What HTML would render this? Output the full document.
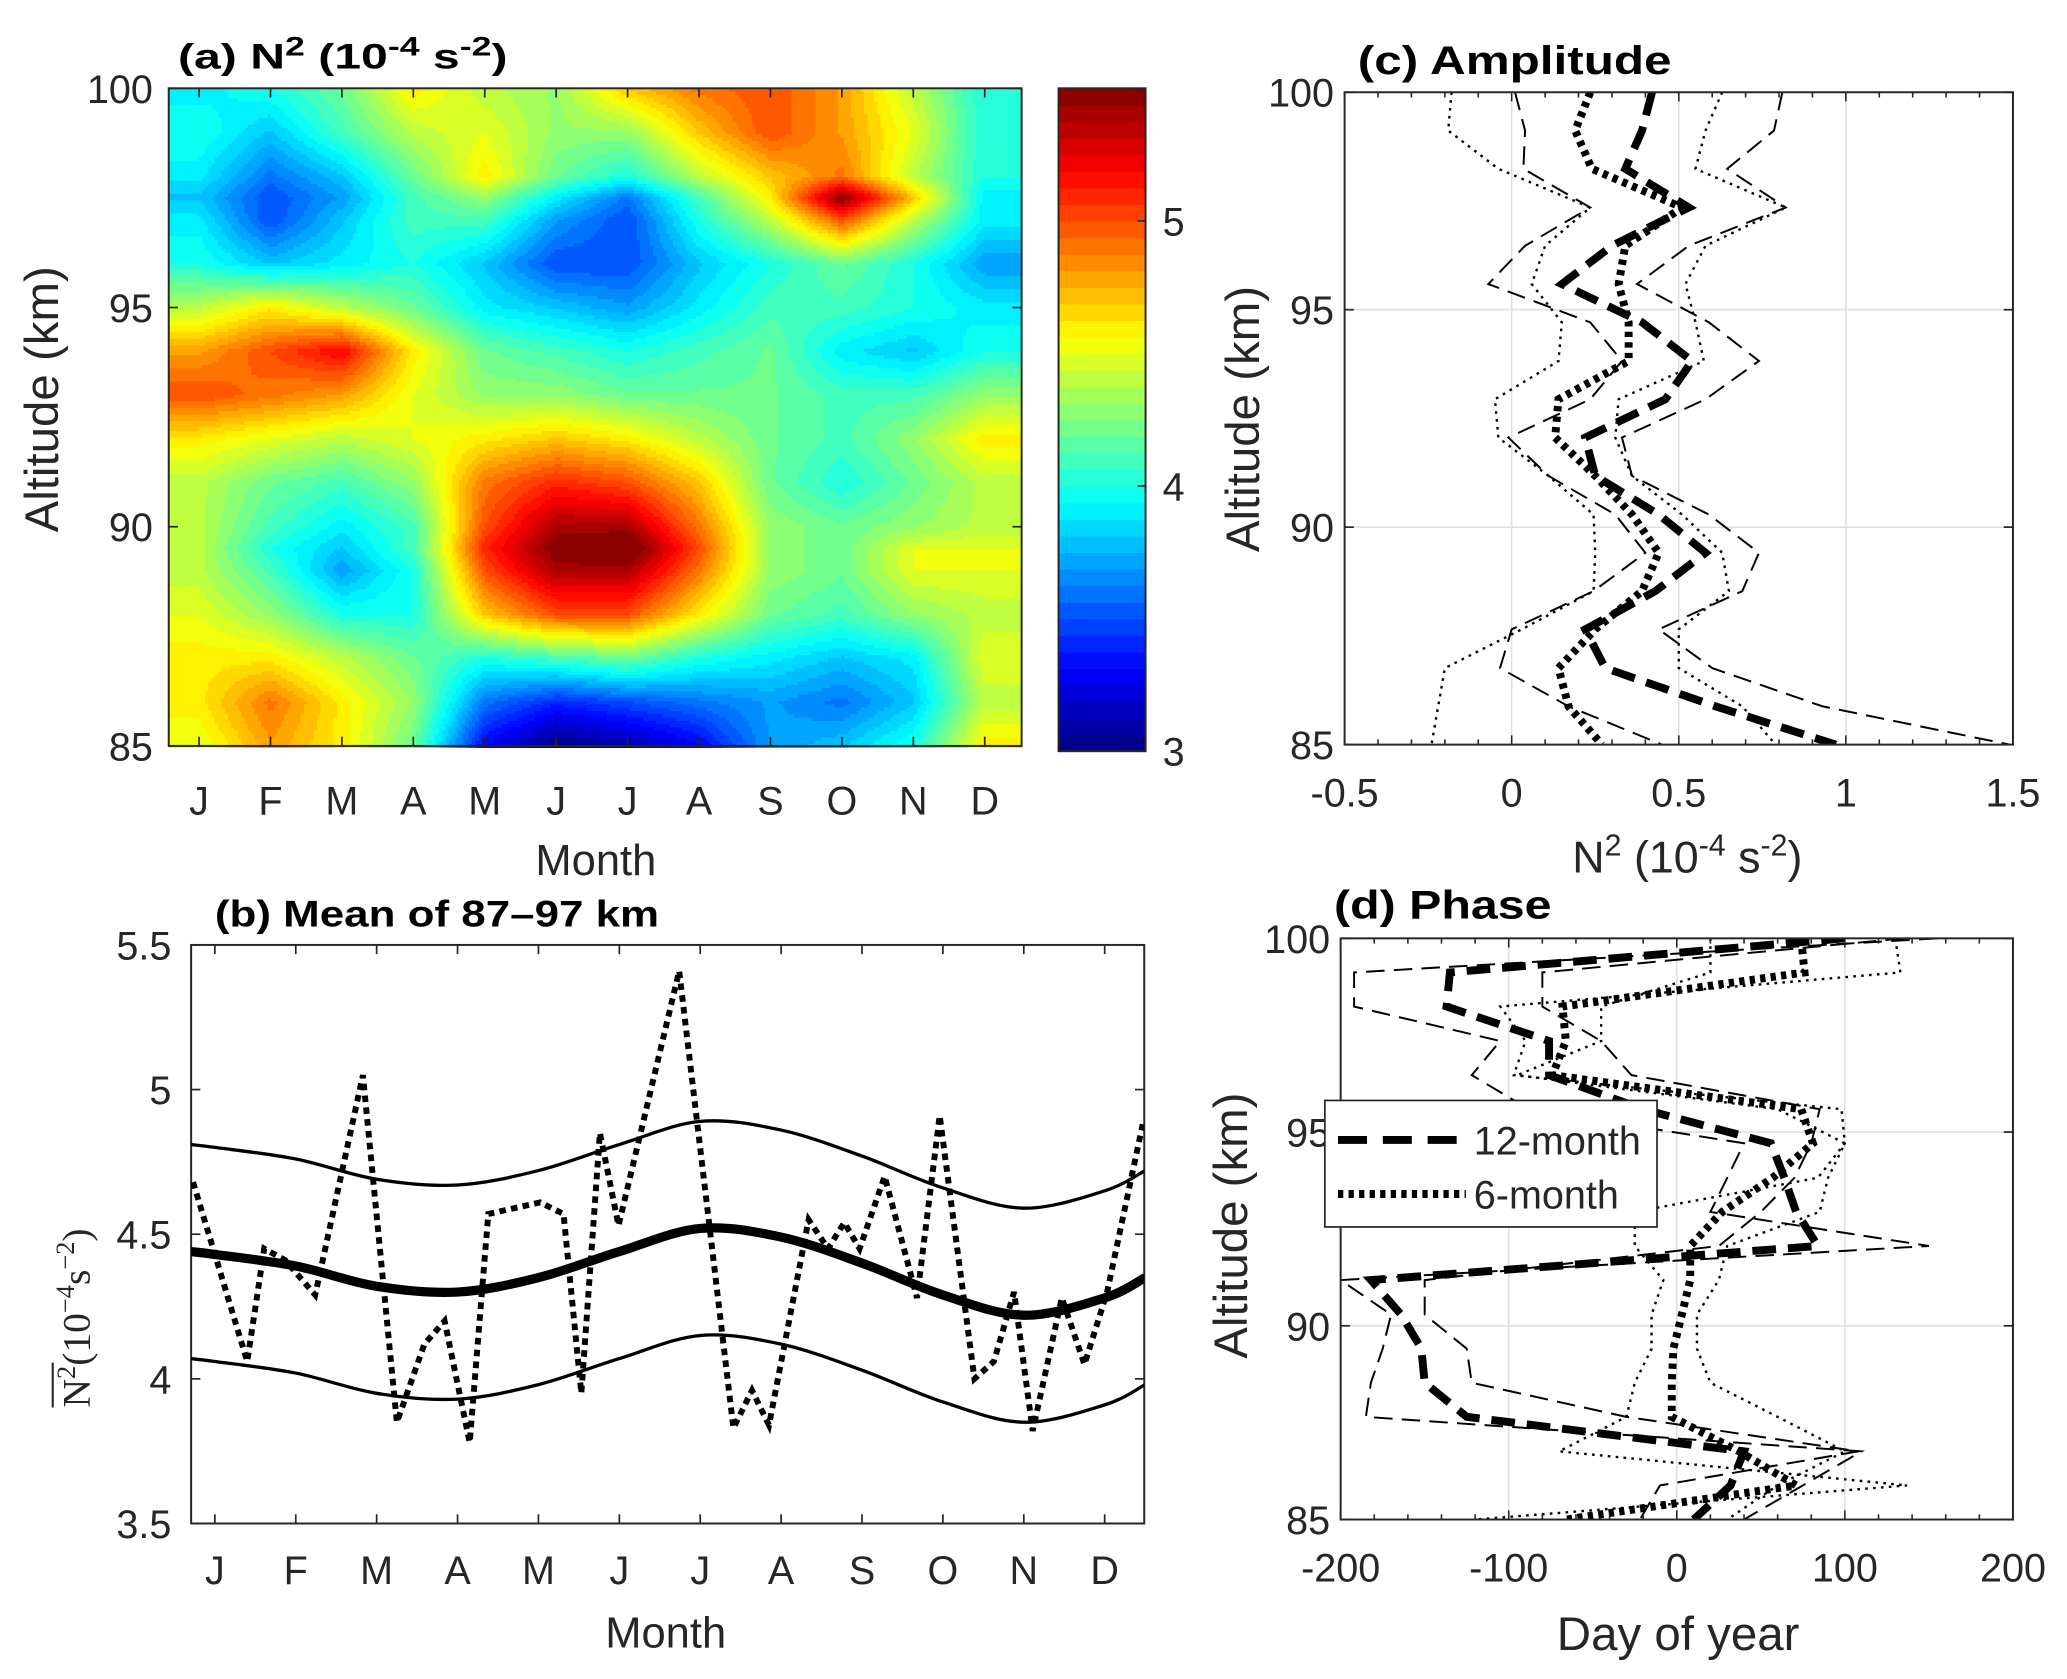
<!DOCTYPE html>
<html><head><meta charset="utf-8"><style>
html,body{margin:0;padding:0;background:#fff;}
svg{display:block;}
text{font-family:"Liberation Sans",Arial,sans-serif;fill:#262626;}
.b{font-weight:bold;fill:#000;}
</style></head><body>
<svg id="fig" width="2067" height="1679" viewBox="0 0 1568 1274" preserveAspectRatio="none" xmlns="http://www.w3.org/2000/svg">
<g id="ga"></g>
<g id="gcb"></g>
<g id="gb"></g>
<g id="gc"></g>
<g id="gd"></g>
</svg>
<script>
// ---------- DATA ----------
const monthLabels = ["J","F","M","A","M","J","J","A","S","O","N","D"];
const heatAlts = [100,99,98,97.5,97,96,95,94,93,92,91,90,89.5,89,88,87,86,85];
const heatVals = [
[3.9,4.0,4.2,4.6,4.4,4.3,4.7,4.9,5.0,4.8,4.4,4.0],
[4.0,3.8,4.1,4.4,4.5,4.3,4.3,4.7,5.0,4.8,4.5,4.0],
[3.9,3.6,3.8,4.2,4.6,4.2,4.0,4.4,4.7,4.9,4.4,4.0],
[3.8,3.5,3.7,4.1,4.3,3.9,3.6,4.1,4.6,5.5,4.7,3.9],
[3.9,3.5,3.8,4.1,4.1,3.7,3.5,4.0,4.4,5.0,4.4,3.9],
[4.0,3.8,3.9,4.0,3.8,3.5,3.5,3.8,4.0,4.2,4.0,3.7],
[4.4,4.6,4.4,4.2,3.9,3.8,3.7,3.9,4.1,4.1,4.0,3.9],
[4.8,5.0,5.2,4.6,4.2,4.1,4.0,4.1,4.2,3.9,3.8,4.0],
[5.0,4.9,4.8,4.5,4.3,4.3,4.2,4.2,4.2,4.1,4.1,4.3],
[4.6,4.5,4.4,4.5,4.6,4.7,4.6,4.4,4.2,4.1,4.3,4.6],
[4.4,4.2,4.1,4.3,4.9,5.1,5.0,4.7,4.2,4.0,4.2,4.4],
[4.4,4.1,3.9,4.1,5.0,5.4,5.4,4.9,4.3,4.2,4.3,4.4],
[4.4,4.0,3.8,4.1,5.1,5.5,5.6,5.0,4.3,4.2,4.5,4.5],
[4.4,4.1,3.7,4.0,5.0,5.4,5.4,4.9,4.3,4.2,4.5,4.5],
[4.5,4.3,4.0,4.0,4.7,5.0,5.0,4.6,4.2,4.1,4.3,4.4],
[4.6,4.6,4.4,4.2,4.0,4.1,4.2,4.0,3.9,3.8,3.9,4.5],
[4.6,4.9,4.6,4.3,3.6,3.4,3.5,3.6,3.7,3.6,3.8,4.4],
[4.5,4.8,4.6,4.2,3.3,3.0,3.1,3.3,3.7,3.8,4.0,4.6]];
const cbTicks = [3,4,5];

const fitT = [-0.3,0,1,2,3,4,5,6,7,8,9,10,11,11.5];
const fitMean = [4.44,4.43,4.39,4.32,4.30,4.35,4.44,4.52,4.49,4.40,4.29,4.22,4.28,4.35];
const fitUpper = [4.81,4.80,4.76,4.69,4.67,4.72,4.81,4.89,4.86,4.77,4.66,4.59,4.65,4.72];
const fitLower = [4.07,4.06,4.02,3.95,3.93,3.98,4.07,4.15,4.12,4.03,3.92,3.85,3.91,3.98];
const rawT = [-0.27,0.40,0.61,0.87,1.24,1.83,2.25,2.59,2.84,3.15,3.38,4.02,4.31,4.53,4.76,4.99,5.74,6.41,6.64,6.85,7.34,7.58,7.78,7.97,8.28,8.68,8.96,9.39,9.63,9.88,10.11,10.47,10.75,11.03,11.47];
const rawV = [4.68,4.06,4.45,4.41,4.29,5.05,3.85,4.12,4.20,3.78,4.57,4.61,4.57,3.95,4.85,4.53,5.41,3.83,3.96,3.84,4.55,4.45,4.54,4.45,4.70,4.28,4.91,4.00,4.06,4.30,3.82,4.28,4.05,4.30,4.88];
const bTicks = [3.5,4,4.5,5,5.5];

const profAlts = [100,99.12,98.24,97.35,96.47,95.59,94.71,93.82,92.94,92.06,91.18,90.29,89.41,88.53,87.65,86.76,85.88,85];
const amp12 = [0.42,0.39,0.34,0.53,0.30,0.15,0.39,0.54,0.46,0.22,0.25,0.44,0.58,0.43,0.22,0.28,0.61,0.97];
const amp6 = [0.235,0.19,0.24,0.51,0.34,0.32,0.35,0.35,0.14,0.13,0.25,0.36,0.44,0.39,0.25,0.14,0.17,0.27];
const amp12Lo = [0.01,0.04,0.035,0.235,0.04,-0.07,0.235,0.33,0.235,-0.01,0.11,0.31,0.40,0.245,0.0,-0.035,0.17,0.45];
const amp12Hi = [0.81,0.785,0.645,0.82,0.53,0.375,0.59,0.74,0.58,0.33,0.36,0.59,0.74,0.69,0.44,0.60,0.93,1.49];
const amp6Lo = [-0.18,-0.19,-0.04,0.235,0.10,0.06,0.15,0.14,-0.05,-0.04,0.11,0.245,0.25,0.245,0.03,-0.20,-0.22,-0.24];
const amp6Hi = [0.63,0.58,0.55,0.82,0.58,0.52,0.55,0.575,0.32,0.31,0.36,0.51,0.63,0.65,0.50,0.50,0.69,0.79];
const cTicks = [-0.5,0,0.5,1,1.5];

const ph12 = [100,-135,-137,-76,-76,-20,56,64,71,84,-182,-164,-152,-150,-125,40,32,10];
const ph6 = [74,76,-68,-66,-74,74,81,57,27,8,8,3,-2,-3,-3,37,71,-66];
const ph12A = [155,-192,-192,-105,-122,-88,40,30,20,150,-200,-170,-175,-182,-185,110,75,40];
const ph12B = [135,-80,-80,-45,-27,85,80,70,50,25,-150,-150,-125,-122,-30,108,-10,-22];
const ph6A = [130,133,-105,-90,-97,98,100,84,-25,-25,-8,-15,-15,-25,-30,-70,137,-120];
const ph6B = [20,20,-45,-45,-95,60,100,90,85,30,25,12,12,20,60,100,60,30];
const dTicks = [-200,-100,0,100,200];
const altTicks = [85,90,95,100];

// ---------- HELPERS ----------
const NS="http://www.w3.org/2000/svg";
function mk(parent,tag,attrs,txt){const e=document.createElementNS(NS,tag);for(const k in attrs)e.setAttribute(k,attrs[k]);if(txt!==undefined)e.textContent=txt;parent.appendChild(e);return e;}
function jet(v){
  const r=Math.max(0,Math.min(1,1.5-Math.abs(4*v-3)));
  const g=Math.max(0,Math.min(1,1.5-Math.abs(4*v-2)));
  const b=Math.max(0,Math.min(1,1.5-Math.abs(4*v-1)));
  return `rgb(${Math.round(r*255)},${Math.round(g*255)},${Math.round(b*255)})`;
}
const CMIN=3, CMAX=5.5, NLEV=40;
function lvColor(val){let q=Math.floor((val-CMIN)/(CMAX-CMIN)*NLEV);q=Math.max(0,Math.min(NLEV-1,q));return jet((q+0.5)/NLEV);}
function lin(d0,d1,r0,r1){return v=>r0+(v-d0)/(d1-d0)*(r1-r0);}
function catmull(pts){let d=`M${pts[0][0]},${pts[0][1]}`;for(let i=0;i<pts.length-1;i++){const p0=pts[Math.max(0,i-1)],p1=pts[i],p2=pts[i+1],p3=pts[Math.min(pts.length-1,i+2)];
 d+=` C${p1[0]+(p2[0]-p0[0])/6},${p1[1]+(p2[1]-p0[1])/6} ${p2[0]-(p3[0]-p1[0])/6},${p2[1]-(p3[1]-p1[1])/6} ${p2[0]},${p2[1]}`;}return d;}
function txt(g,x,y,s,size,anchor,extra){const a={x:x,y:y,'font-size':size,'text-anchor':anchor||'middle'};if(extra)for(const k in extra)a[k]=extra[k];return mk(g,'text',a,s);}
const TF=30; // tick font
const AF=36; // axis title font

// ---------- PANEL A ----------
(function(){
 const g=document.getElementById('ga');
 const X0=128,X1=775,Y0=67,Y1=566;
 const xm=lin(0,11,151,747), ya=lin(85,100,Y1,Y0);
 function val(m,a){
  m=Math.max(0,Math.min(11,m));
  let i=0;while(i<heatAlts.length-2&&a<heatAlts[i+1])i++;
  const a0=heatAlts[i],a1=heatAlts[i+1];let ta=(a0-a)/(a0-a1);ta=Math.max(0,Math.min(1,ta));
  const j=Math.min(10,Math.floor(m)),tm=m-j;
  const v0=heatVals[i][j]*(1-tm)+heatVals[i][j+1]*tm;
  const v1=heatVals[i+1][j]*(1-tm)+heatVals[i+1][j+1]*tm;
  return v0*(1-ta)+v1*ta;
 }
 const step=2.5;
 const hm=mk(g,'g',{});
 
 
 function flush(x0,x1,y,c){
  const r=mk(hm,'rect',{x:x0,y:y,width:x1-x0+0.6,height:step+0.6,fill:c});
  
  
 }
 for(let y=Y0;y<Y1;y+=step){
  const a=85+(Y1-(y+step/2))/(Y1-Y0)*15;
  let runStart=X0,runCol=null;
  for(let x=X0;x<X1;x+=step){
   const m=(x+step/2-151)/(747-151)*11;
   const c=lvColor(val(m,a));
   if(c!==runCol){
     if(runCol)flush(runStart,x,y,runCol);
     runStart=x;runCol=c;}
  }
  if(runCol)flush(runStart,X1,y,runCol);
 }
 mk(g,'rect',{x:X0,y:Y0,width:X1-X0,height:Y1-Y0,fill:'none',stroke:'#262626','stroke-width':1.5});
 monthLabels.forEach((s,i)=>{const x=xm(i);
  mk(g,'line',{x1:x,x2:x,y1:Y1,y2:Y1-7,stroke:'#262626','stroke-width':1.3});
  mk(g,'line',{x1:x,x2:x,y1:Y0,y2:Y0+7,stroke:'#262626','stroke-width':1.3});
  const t=txt(g,x,618,s,TF);});
 altTicks.forEach(a=>{const y=ya(a);
  mk(g,'line',{x1:X0,x2:X0+7,y1:y,y2:y,stroke:'#262626','stroke-width':1.3});
  mk(g,'line',{x1:X1,x2:X1-7,y1:y,y2:y,stroke:'#262626','stroke-width':1.3});
  txt(g,116,y+11,a,TF,'end');});
 const t=mk(g,'text',{x:135,y:52,'font-size':27,class:'b',textLength:250,lengthAdjust:'spacingAndGlyphs'});t.innerHTML='(a) N<tspan dy="-10" font-size="20">2</tspan><tspan dy="10"> (10</tspan><tspan dy="-10" font-size="20">-4</tspan><tspan dy="10"> s</tspan><tspan dy="-10" font-size="20">-2</tspan><tspan dy="10">)</tspan>';
 
 const yl=txt(g,0,0,'Altitude (km)',AF,'middle',{transform:'translate(44,303) rotate(-90)'});
 
 const xl=txt(g,452,664,'Month',33);
})();

// ---------- COLORBAR ----------
(function(){
 const g=document.getElementById('gcb');
 const X0=803,X1=869,Yb=570,Yt=67;
 const yv=lin(CMIN,CMAX,Yb,Yt);
 for(let q=0;q<NLEV;q++){
  const v0=CMIN+q*(CMAX-CMIN)/NLEV,v1=CMIN+(q+1)*(CMAX-CMIN)/NLEV;
  const r=mk(g,'rect',{x:X0,y:yv(v1),width:X1-X0,height:yv(v0)-yv(v1)+0.5,fill:jet((q+0.5)/NLEV)});
  
 }
 mk(g,'rect',{x:X0,y:Yt,width:X1-X0,height:Yb-Yt,fill:'none',stroke:'#262626','stroke-width':1.5});
 cbTicks.forEach(v=>{const y=yv(v);mk(g,'line',{x1:X1,x2:X1-6,y1:y,y2:y,stroke:'#262626','stroke-width':1.3});
  const t=txt(g,882,y+11,v,TF,'start');});
})();

// ---------- PANEL B ----------
(function(){
 const g=document.getElementById('gb');
 const X0=145,X1=868,Y0=717,Y1=1156;
 const xm=lin(0,11,163,838), yv=lin(3.5,5.5,Y1,Y0);
 mk(g,'rect',{x:X0,y:Y0,width:X1-X0,height:Y1-Y0,fill:'#fff',stroke:'#262626','stroke-width':1.5});
 monthLabels.forEach((s,i)=>{const x=xm(i);
  mk(g,'line',{x1:x,x2:x,y1:Y1,y2:Y1-7,stroke:'#262626','stroke-width':1.3});
  mk(g,'line',{x1:x,x2:x,y1:Y0,y2:Y0+7,stroke:'#262626','stroke-width':1.3});
  const t=txt(g,x,1202,s,TF);});
 bTicks.forEach(v=>{const y=yv(v);
  mk(g,'line',{x1:X0,x2:X0+7,y1:y,y2:y,stroke:'#262626','stroke-width':1.3});
  mk(g,'line',{x1:X1,x2:X1-7,y1:y,y2:y,stroke:'#262626','stroke-width':1.3});
  txt(g,130,y+11,v,TF,'end');});
 const cp=mk(g,'clipPath',{id:'clipb'});mk(cp,'rect',{x:X0,y:Y0,width:X1-X0,height:Y1-Y0});
 const pg=mk(g,'g',{'clip-path':'url(#clipb)'});
 const raw=mk(pg,'path',{d:rawT.map((t,i)=>(i?'L':'M')+xm(t)+','+yv(rawV[i])).join(' '),fill:'none',stroke:'#000','stroke-width':4.5,'stroke-dasharray':'5 4'});
 
 const up=mk(pg,'path',{d:catmull(fitT.map((t,i)=>[xm(t),yv(fitUpper[i])])),fill:'none',stroke:'#000','stroke-width':2.5});
 
 const lo=mk(pg,'path',{d:catmull(fitT.map((t,i)=>[xm(t),yv(fitLower[i])])),fill:'none',stroke:'#000','stroke-width':2.5});
 
 const mn=mk(pg,'path',{d:catmull(fitT.map((t,i)=>[xm(t),yv(fitMean[i])])),fill:'none',stroke:'#000','stroke-width':7});
 
 const t=txt(g,163,703,'(b) Mean of 87–97 km',28,'start',{class:'b',textLength:337,lengthAdjust:'spacingAndGlyphs'});
 const yg=mk(g,'g',{transform:'translate(68,1068) rotate(-90)'});
 
 const yl=mk(yg,'text',{x:0,y:0,'text-anchor':'start','font-size':30,style:'font-family:"Liberation Serif",serif'});
 yl.innerHTML='N<tspan font-size="20" dy="-11">2</tspan><tspan dy="11">(10</tspan><tspan font-size="20" dy="-12">−4</tspan><tspan dy="12">s</tspan><tspan font-size="20" dy="-12">−2</tspan><tspan dy="12">)</tspan>';
 mk(yg,'line',{x1:0,x2:34,y1:-28,y2:-28,stroke:'#262626','stroke-width':1.6});
 const xl=txt(g,505,1250,'Month',33);
})();

// ---------- PROFILE PANELS ----------
function profilePanel(g,X0,X1,Y0,Y1,d0,d1,ticks,series,clipId){
 const xv=lin(d0,d1,X0,X1), ya=lin(85,100,Y1,Y0);
 mk(g,'rect',{x:X0,y:Y0,width:X1-X0,height:Y1-Y0,fill:'#fff'});
 ticks.forEach(v=>{const x=xv(v);mk(g,'line',{x1:x,x2:x,y1:Y0,y2:Y1,stroke:'#e0e0e0','stroke-width':1.2});});
 altTicks.forEach(a=>{const y=ya(a);mk(g,'line',{x1:X0,x2:X1,y1:y,y2:y,stroke:'#e0e0e0','stroke-width':1.2});});
 const cp=mk(g,'clipPath',{id:clipId});mk(cp,'rect',{x:X0,y:Y0,width:X1-X0,height:Y1-Y0});
 const pg=mk(g,'g',{'clip-path':`url(#${clipId})`});
 series.forEach(s=>{
  const p=mk(pg,'path',{d:s.v.map((v,i)=>(i?'L':'M')+xv(v)+','+ya(profAlts[i])).join(' '),fill:'none',stroke:'#000','stroke-width':s.w,'stroke-dasharray':s.dash});
  
 });
 mk(g,'rect',{x:X0,y:Y0,width:X1-X0,height:Y1-Y0,fill:'none',stroke:'#262626','stroke-width':1.5});
 const n=(ticks.length-1)*5;
 for(let k=0;k<=n;k++){const x=X0+(X1-X0)*k/n;const L=k%5===0?7:4;
  mk(g,'line',{x1:x,x2:x,y1:Y1,y2:Y1-L,stroke:'#262626','stroke-width':1.2});
  mk(g,'line',{x1:x,x2:x,y1:Y0,y2:Y0+L,stroke:'#262626','stroke-width':1.2});}
 altTicks.forEach(a=>{const y=ya(a);
  mk(g,'line',{x1:X0,x2:X0+7,y1:y,y2:y,stroke:'#262626','stroke-width':1.3});
  mk(g,'line',{x1:X1,x2:X1-7,y1:y,y2:y,stroke:'#262626','stroke-width':1.3});
  txt(g,X0-8,y+11,a,TF,'end');});
 return xv;
}
(function(){
 const g=document.getElementById('gc');
 const xv=profilePanel(g,1020,1527,70,565,-0.5,1.5,cTicks,[
  {v:amp12Lo,w:1.5,dash:'14 7',name:'amp-12month-lower'},
  {v:amp12Hi,w:1.5,dash:'14 7',name:'amp-12month-upper'},
  {v:amp6Lo,w:1.8,dash:'2 4',name:'amp-6month-lower'},
  {v:amp6Hi,w:1.8,dash:'2 4',name:'amp-6month-upper'},
  {v:amp12,w:6,dash:'18 9',name:'amp-12month'},
  {v:amp6,w:6,dash:'4 4',name:'amp-6month'}],'clipc');
 cTicks.forEach(v=>{const t=txt(g,xv(v),612,v,TF);});
 const t=txt(g,1030,56,'(c) Amplitude',30,'start',{class:'b',textLength:238,lengthAdjust:'spacingAndGlyphs'});
 const yl=txt(g,0,0,'Altitude (km)',AF,'middle',{transform:'translate(955,318) rotate(-90)'});
 const xl=mk(g,'text',{x:1280,y:662,'font-size':34,'text-anchor':'middle'});
 xl.innerHTML='N<tspan dy="-13" font-size="23">2</tspan><tspan dy="13"> (10</tspan><tspan dy="-13" font-size="23">-4</tspan><tspan dy="13"> s</tspan><tspan dy="-13" font-size="23">-2</tspan><tspan dy="13">)</tspan>';
 
})();
(function(){
 const g=document.getElementById('gd');
 const xv=profilePanel(g,1017,1527,712,1153,-200,200,dTicks,[
  {v:ph12A,w:1.5,dash:'14 7',name:'phase-12month-lower'},
  {v:ph12B,w:1.5,dash:'14 7',name:'phase-12month-upper'},
  {v:ph6A,w:1.8,dash:'2 4',name:'phase-6month-lower'},
  {v:ph6B,w:1.8,dash:'2 4',name:'phase-6month-upper'},
  {v:ph12,w:6,dash:'18 9',name:'phase-12month'},
  {v:ph6,w:6,dash:'4 4',name:'phase-6month'}],'clipd');
 dTicks.forEach(v=>{const t=txt(g,xv(v),1200,v,TF);});
 const t=txt(g,1012,697,'(d) Phase',30,'start',{class:'b',textLength:165,lengthAdjust:'spacingAndGlyphs'});
 const yl=txt(g,0,0,'Altitude (km)',AF,'middle',{transform:'translate(946,930) rotate(-90)'});
 const xl=txt(g,1273,1252,'Day of year',36);
 const lg=mk(g,'g',{});
 mk(lg,'rect',{x:1005,y:835,width:252,height:96,fill:'#fff',stroke:'#262626','stroke-width':1.3});
 const e1=mk(lg,'line',{x1:1015,x2:1112,y1:865,y2:865,stroke:'#000','stroke-width':6,'stroke-dasharray':'22 12'});
 
 txt(lg,1118,876,'12-month',30,'start');
 const e2=mk(lg,'line',{x1:1015,x2:1112,y1:906,y2:906,stroke:'#000','stroke-width':6,'stroke-dasharray':'4 4'});
 
 txt(lg,1118,917,'6-month',30,'start');
})();
</script>
</body></html>
